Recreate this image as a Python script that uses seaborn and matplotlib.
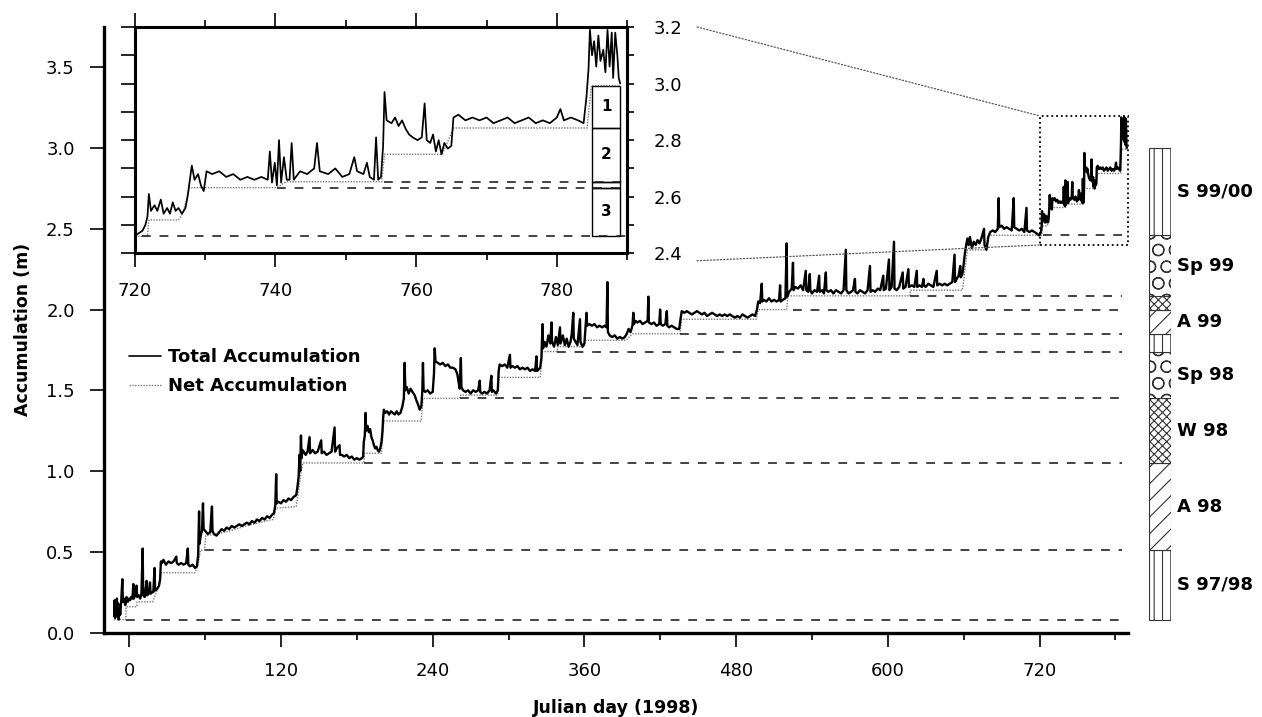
import matplotlib
matplotlib.use('Agg')
import matplotlib.pyplot as plt
import seaborn as sns
import pandas as pd
from matplotlib.patches import Rectangle, ConnectionPatch
from matplotlib.ticker import MultipleLocator, FormatStrFormatter, FixedLocator

sns.set_style('ticks')
plt.rcParams['font.family'] = ['DejaVu Sans']
plt.rcParams['hatch.linewidth'] = 0.8
plt.rcParams['hatch.color'] = 'black'
for k in ['text.color', 'axes.labelcolor', 'xtick.color', 'ytick.color', 'axes.edgecolor']:
    plt.rcParams[k] = 'black'

# ---------------- data ----------------
total_accumulation = [
    (-12, 0.10), (-11.6, 0.20), (-11.2, 0.09), (-10.8, 0.19), (-10.3, 0.12), (-9.8, 0.21), (-9.3, 0.10),
    (-8.8, 0.18), (-8.3, 0.08), (-7.8, 0.17), (-7.2, 0.11), (-6.4, 0.19), (-5.5, 0.33), (-5.1, 0.19),
    (-4.2, 0.21), (-3.2, 0.17), (-2.2, 0.22), (-1.2, 0.19), (-0.2, 0.21),
    (0.6, 0.20), (1.5, 0.22), (2.5, 0.21), (3.2, 0.30), (3.6, 0.21), (4.6, 0.23), (5.8, 0.29), (6.2, 0.22),
    (7.5, 0.23), (8.6, 0.21), (9.6, 0.24), (10.6, 0.52), (11.0, 0.23), (12.2, 0.22), (13.7, 0.32),
    (14.1, 0.23), (15.2, 0.24), (16.4, 0.31), (16.8, 0.24), (18.0, 0.25), (19.0, 0.25), (20.0, 0.40),
    (20.4, 0.26), (22.0, 0.27), (23.5, 0.29), (24.4, 0.33), (25.0, 0.44),
    (25.8, 0.43), (27.0, 0.45), (29.0, 0.42), (31.0, 0.44), (33.0, 0.43), (35.0, 0.44), (37.2, 0.47),
    (37.6, 0.43), (39.0, 0.42), (41.0, 0.43), (43.0, 0.42), (45.0, 0.43), (46.3, 0.52), (46.7, 0.42),
    (48.0, 0.41), (50.0, 0.42), (52.0, 0.40), (53.5, 0.41),
    (54.5, 0.48), (55.2, 0.75), (55.6, 0.55), (56.5, 0.60), (57.5, 0.63), (58.3, 0.80), (58.8, 0.64),
    (60, 0.63), (62, 0.61), (64, 0.62), (65.4, 0.78), (65.8, 0.63), (67, 0.61), (69, 0.60), (71, 0.62),
    (73, 0.64), (75, 0.63), (77, 0.65), (79, 0.64), (81, 0.66), (83, 0.65), (85, 0.66), (87, 0.67),
    (89, 0.66), (91, 0.67), (93, 0.68), (95, 0.67), (97, 0.69), (99, 0.68), (101, 0.70), (103, 0.69),
    (105, 0.71), (107, 0.70), (109, 0.72), (111, 0.71), (113, 0.73),
    (114.5, 0.74), (115.5, 0.79), (116.2, 0.98), (116.6, 0.80), (118, 0.81), (120, 0.80), (122, 0.82),
    (124, 0.81), (126, 0.83), (128, 0.82), (130, 0.84), (132, 0.85), (133, 0.90), (134, 0.97),
    (134.6, 1.10), (135.2, 1.00), (135.8, 1.22), (136.3, 1.08), (137, 1.13),
    (138, 1.12), (139.5, 1.10), (141, 1.12), (142.6, 1.21), (143, 1.11), (145, 1.13), (147, 1.11),
    (149, 1.12), (151.8, 1.19), (152.2, 1.11), (154, 1.12), (156, 1.10), (158, 1.11), (160, 1.12),
    (162.4, 1.27), (162.8, 1.12), (164, 1.14), (166.3, 1.16), (166.7, 1.10), (168, 1.10), (170, 1.09),
    (172, 1.10), (174, 1.08), (176, 1.09), (178, 1.07), (180, 1.08), (182, 1.07), (184, 1.08),
    (185, 1.09), (185.5, 1.18), (186.3, 1.22), (186.9, 1.36), (187.3, 1.25), (188.5, 1.28), (189.5, 1.24),
    (190.5, 1.26), (191.5, 1.21), (192.5, 1.19), (193.5, 1.16), (194.5, 1.14), (195.5, 1.15),
    (196.5, 1.13), (197.5, 1.12), (198.5, 1.14), (199.5, 1.18), (200.3, 1.25), (200.8, 1.33), (201.4, 1.38),
    (202.5, 1.36), (204, 1.37), (205.5, 1.35), (207, 1.37), (208.5, 1.36), (210, 1.35), (211.5, 1.37),
    (213, 1.35), (214.5, 1.36), (216, 1.40), (217.2, 1.45), (217.8, 1.67), (218.4, 1.50), (219.5, 1.52),
    (221, 1.48), (222.5, 1.51), (224, 1.49), (225.7, 1.47), (227, 1.44), (228.5, 1.41), (229.7, 1.38),
    (231, 1.40), (231.8, 1.50), (232.3, 1.67), (232.8, 1.50), (234, 1.49), (236, 1.50), (238, 1.48),
    (240, 1.49), (241, 1.60), (241.6, 1.76), (242.2, 1.68), (244, 1.67), (246, 1.66), (248, 1.67),
    (250, 1.65), (252, 1.66), (254, 1.64), (256, 1.64), (258, 1.63), (259.5, 1.60), (260.5, 1.55),
    (261.4, 1.51), (262.3, 1.70), (262.7, 1.52),
    (264, 1.50), (266, 1.49), (268, 1.50), (270, 1.48), (272, 1.50), (274, 1.49), (276, 1.50),
    (277.2, 1.56), (277.6, 1.49), (279, 1.48), (281, 1.49), (283, 1.48), (285, 1.50), (286.4, 1.59),
    (286.8, 1.49), (288, 1.50), (290, 1.48), (291.5, 1.50),
    (292.2, 1.62), (293, 1.66), (295, 1.65), (297, 1.66), (299, 1.64), (301.1, 1.72), (301.5, 1.64),
    (303, 1.65), (305, 1.64), (307, 1.65), (309, 1.63), (311, 1.64), (313, 1.63), (315, 1.64),
    (317, 1.62), (319, 1.63), (321, 1.62), (322.1, 1.71), (322.5, 1.62), (324, 1.63),
    (325, 1.64), (326, 1.70), (326.9, 1.91), (327.3, 1.76), (328.5, 1.80), (330, 1.77), (331.5, 1.84),
    (333, 1.79), (334, 1.92), (334.4, 1.80), (336, 1.77), (337.5, 1.83), (339, 1.78), (340.7, 1.89),
    (341.1, 1.79), (343, 1.84), (344.5, 1.78), (346, 1.82), (347.5, 1.77), (349, 1.80), (350, 1.85),
    (351.2, 1.98), (351.6, 1.82), (353, 1.80), (354.5, 1.78), (356.5, 1.94), (356.9, 1.80),
    (358.5, 1.77), (360, 1.79), (361.7, 1.98), (362.1, 1.90),
    (364, 1.91), (366, 1.90), (368, 1.91), (370, 1.89), (372, 1.90), (374, 1.89), (376, 1.90),
    (377.5, 1.89), (378.2, 2.17), (378.6, 1.86),
    (380, 1.84), (382, 1.83), (384, 1.84), (386, 1.82), (388, 1.83), (390, 1.82), (392, 1.83),
    (393.5, 1.85), (395, 1.88), (396.5, 1.86), (398, 1.90), (398.7, 1.98), (399.2, 1.91), (400.5, 1.93),
    (402, 1.92), (404, 1.93), (406, 1.91), (408, 1.92), (410, 1.93), (410.6, 2.08), (411, 1.92),
    (413, 1.91), (415, 1.92), (417, 1.90), (419.2, 1.91), (419.9, 2.00), (420.4, 1.91), (422, 1.90),
    (424, 1.91), (425.2, 1.99), (425.6, 1.90), (427, 1.89), (429, 1.90), (431, 1.89), (433, 1.88),
    (435, 1.88),
    (436, 1.94), (437, 1.99), (439, 1.98), (441, 1.99), (443, 1.98), (445, 1.97), (447, 1.98),
    (449, 1.99), (451, 1.98), (453, 1.97), (455, 1.98), (457, 1.96), (459, 1.97), (461, 1.98),
    (463, 1.97), (465, 1.96), (467, 1.97), (469, 1.96), (471, 1.97), (473, 1.96), (475, 1.97),
    (477, 1.96), (479, 1.95), (481, 1.96), (483, 1.95), (485, 1.97), (487, 1.96), (489, 1.95),
    (491, 1.96), (493, 1.97), (495, 1.96),
    (496.5, 2.00), (497.5, 2.05), (499, 2.04), (500.3, 2.16), (500.7, 2.05), (502, 2.06), (504, 2.05),
    (506, 2.07), (508, 2.05), (510, 2.06), (512, 2.05), (514, 2.06), (514.8, 2.15), (515.2, 2.05),
    (517, 2.06), (519, 2.07), (520, 2.41), (520.4, 2.08),
    (522, 2.11), (524, 2.13), (525, 2.29), (525.4, 2.12), (527, 2.14), (529, 2.13), (531, 2.15),
    (533, 2.12), (535.1, 2.24), (535.5, 2.12), (537, 2.11), (538.3, 2.22), (538.7, 2.12), (540, 2.10),
    (542, 2.12), (544, 2.11), (545.7, 2.21), (546.1, 2.11), (548, 2.12), (549.5, 2.10), (551, 2.23),
    (551.4, 2.12), (553, 2.11), (555, 2.12), (557, 2.10), (559, 2.12), (561, 2.11), (563, 2.10),
    (565, 2.12), (566.8, 2.37), (567.2, 2.12), (569, 2.10), (571, 2.11), (572.5, 2.12), (574, 2.19),
    (574.4, 2.11), (576, 2.10), (578, 2.12), (580, 2.11), (582, 2.10), (584, 2.12), (585.9, 2.27),
    (586.3, 2.11), (588, 2.12), (590, 2.11), (592, 2.13), (594, 2.12), (596.4, 2.21), (596.8, 2.12),
    (598.5, 2.13), (600.9, 2.31), (601.3, 2.12), (603, 2.14), (604.9, 2.42), (605.3, 2.13), (607, 2.12),
    (609, 2.14), (611.8, 2.23), (612.2, 2.13), (614, 2.14), (616.3, 2.25), (616.7, 2.14), (619, 2.15),
    (621, 2.14), (622.9, 2.24), (623.3, 2.14), (625, 2.15), (627, 2.14), (628.2, 2.19), (628.6, 2.15),
    (630, 2.14), (632, 2.16), (634, 2.15), (636, 2.14), (638.7, 2.24), (639.1, 2.15), (641, 2.16),
    (643, 2.15), (645, 2.16), (647, 2.15), (649, 2.16), (651, 2.17),
    (652.8, 2.34), (653.2, 2.17), (654.5, 2.19), (656, 2.21), (657.3, 2.27), (657.7, 2.20), (659, 2.22),
    (660, 2.28), (661, 2.35), (662, 2.40), (663, 2.44),
    (664, 2.40), (665, 2.45), (666.5, 2.38), (668, 2.42), (669.5, 2.40), (671, 2.43), (672.5, 2.41),
    (674, 2.44), (676.1, 2.50), (676.5, 2.40), (678, 2.37), (679.5, 2.45), (681, 2.48), (683, 2.49),
    (685, 2.48), (687, 2.50), (687.7, 2.69), (688.1, 2.51),
    (690, 2.52), (692, 2.50), (694, 2.51), (696, 2.50), (698, 2.49), (699.6, 2.69), (700, 2.51),
    (702, 2.50), (704, 2.49), (706, 2.50), (708, 2.48), (709.7, 2.63), (710.1, 2.49), (712, 2.48),
    (714, 2.49), (716, 2.48), (718, 2.47), (719.5, 2.46),
    (720, 2.46), (720.5, 2.47), (721.1, 2.48), (721.5, 2.50), (721.8, 2.53), (722, 2.61), (722.3, 2.55),
    (722.8, 2.57), (723.2, 2.55), (723.7, 2.59), (724.1, 2.54), (724.6, 2.56), (725, 2.54), (725.4, 2.58),
    (725.8, 2.55), (726.2, 2.56), (726.7, 2.54), (727.2, 2.56), (727.5, 2.60), (728.1, 2.71),
    (728.5, 2.66), (729, 2.68), (729.4, 2.64), (729.8, 2.62), (730.2, 2.69), (731, 2.68), (732, 2.69),
    (733, 2.67), (734, 2.68), (735, 2.66), (736, 2.67), (737, 2.66), (738, 2.67), (738.9, 2.66),
    (739.2, 2.76), (739.5, 2.65), (739.9, 2.72), (740.2, 2.64), (740.5, 2.80), (740.8, 2.65),
    (741.2, 2.74), (741.6, 2.66), (742, 2.66), (742.3, 2.79), (742.6, 2.66), (743.5, 2.69),
    (744.5, 2.68), (745.5, 2.70), (745.9, 2.79), (746.3, 2.69), (747.5, 2.68), (748.5, 2.70),
    (749.5, 2.67), (750.5, 2.68), (751.2, 2.74), (751.6, 2.69), (752.5, 2.68), (753, 2.72),
    (753.4, 2.67), (754, 2.66), (754.3, 2.81), (754.6, 2.66), (755, 2.67), (755.3, 2.78), (755.5, 2.97),
    (755.8, 2.87), (756.5, 2.86), (757, 2.88), (757.5, 2.85), (758, 2.87), (758.5, 2.84), (759, 2.82),
    (759.5, 2.81), (760.2, 2.80), (760.8, 2.81), (761.2, 2.93), (761.5, 2.80), (762, 2.79),
    (762.4, 2.82), (762.8, 2.76), (763.2, 2.80), (763.6, 2.75), (764, 2.79), (764.5, 2.77), (765, 2.78),
    (765.3, 2.88), (766, 2.89), (767, 2.87), (768, 2.88), (769, 2.87), (770, 2.88), (771, 2.86),
    (772, 2.87), (773, 2.88), (774, 2.86), (775, 2.87), (776, 2.88), (777, 2.86), (778, 2.87),
    (779, 2.86), (780, 2.88), (780.5, 2.91), (781, 2.87), (782, 2.88), (783, 2.87), (783.8, 2.86),
    (784.2, 2.95), (784.5, 3.05), (784.7, 3.19), (785, 3.10), (785.3, 3.15), (785.6, 3.06), (785.9, 3.17),
    (786.2, 3.08), (786.6, 3.12), (786.9, 3.04), (787.2, 3.19), (787.5, 3.06), (787.8, 3.18), (788, 3.02),
    (788.3, 3.18), (788.6, 3.10), (788.8, 3.02), (789, 3.00),
]

net_accumulation = [
    (-12, 0.08), (-2.8, 0.08), (-2.6, 0.16), (6.0, 0.16), (6.2, 0.19), (18.5, 0.19), (21, 0.24),
    (23.5, 0.29), (25, 0.37), (52, 0.37), (54.5, 0.42), (56.3, 0.51), (59.5, 0.51), (60.5, 0.60),
    (70, 0.61), (80, 0.63), (90, 0.655), (100, 0.675), (110, 0.695), (114, 0.70), (116, 0.77),
    (132, 0.78), (134, 0.88), (136, 1.00), (137.3, 1.05), (185.5, 1.05), (186, 1.11), (199.5, 1.11),
    (201.4, 1.31), (231, 1.31), (232.3, 1.45), (261.5, 1.45), (262, 1.47), (291.5, 1.47), (292.2, 1.58),
    (325, 1.58), (327, 1.74), (338.5, 1.74), (339, 1.77), (360, 1.77), (361, 1.81), (393, 1.81),
    (398, 1.85), (435.6, 1.85), (437, 1.94), (496, 1.94), (497.5, 2.00), (520, 2.00), (521, 2.085),
    (617.5, 2.085), (618, 2.12), (659, 2.12), (663, 2.37), (678, 2.37), (680, 2.46), (721.8, 2.46),
    (722, 2.518), (726.2, 2.518), (726.8, 2.54), (727.8, 2.632), (740.2, 2.632), (741.5, 2.653),
    (755.1, 2.653), (755.5, 2.75), (763.7, 2.75), (765.3, 2.843), (784.3, 2.843), (784.9, 2.993),
    (789, 2.993),
]

season_edges = [0.08, 0.51, 1.05, 1.45, 1.74, 1.85, 2.00, 2.085, 2.46, 3.00]
season_line_start = [-2.5, 59.5, 185.5, 261.5, 338.5, 435.6, 525, 617.5, 722.5]
season_line_end = 785
season_labels = ['S 97/98', 'A 98', 'W 98', 'Sp 98', '', 'A 99', '', 'Sp 99', 'S 99/00']
season_hatches = ['||', '//', 'xxxx', 'O', '||', '//', 'xxxx', 'O', '||']

inset_levels = [2.461, 2.632, 2.653]
inset_level_start = [721.0, 740.2, 755.4]
layer_edges = [2.461, 2.632, 2.653, 2.843, 2.993]
layer_labels = ['3', '', '2', '1']
layer_day = 787

main_xlim = (-20, 790)
main_ylim = (0, 3.75)
inset_xlim = (720, 790)
inset_ylim = (2.4, 3.2)
inset_right_ticks = [2.4, 2.6, 2.8, 3.0, 3.2]
inset_right_minor = [2.5, 2.7, 2.9, 3.1]

tot = pd.DataFrame(total_accumulation, columns=['day', 'acc'])
net = pd.DataFrame(net_accumulation, columns=['day', 'acc'])

# ---------------- figure ----------------
W, H = 1262, 717
fig = plt.figure(figsize=(W / 100, H / 100), dpi=100)


def rect(l, t, r, b):
    return [l / W, 1 - b / H, (r - l) / W, (b - t) / H]


ax = fig.add_axes(rect(104, 27, 1128, 632.5))
sns.lineplot(data=net, x='day', y='acc', ax=ax, color='#7a7a7a', lw=1.0,
             linestyle=(0, (1, 1)), estimator=None, sort=False)
sns.lineplot(data=tot, x='day', y='acc', ax=ax, color='black', lw=1.7,
             estimator=None, sort=False)
ax.hlines(season_edges[:-1], season_line_start, season_line_end, colors='#1a1a1a',
          linestyles=(0, (5.5, 5.5)), lw=1.15)
ax.add_patch(Rectangle((inset_xlim[0], inset_ylim[0]), inset_xlim[1] - inset_xlim[0],
                       inset_ylim[1] - inset_ylim[0], fill=False, ls=':', lw=1.3,
                       ec='black', clip_on=False))
ax.set_xlim(*main_xlim)
ax.set_ylim(*main_ylim)
ax.xaxis.set_major_locator(MultipleLocator(120))
ax.xaxis.set_minor_locator(MultipleLocator(60))
ax.yaxis.set_major_locator(MultipleLocator(0.5))
ax.yaxis.set_major_formatter(FormatStrFormatter('%.1f'))
ax.tick_params(which='major', length=10, width=1.2, labelsize=13, pad=11, direction='out')
ax.tick_params(axis='x', which='minor', length=5, width=1.2, direction='out')
ax.tick_params(axis='y', which='minor', left=False)
for s in ['top', 'right']:
    ax.spines[s].set_visible(False)
for s in ['left', 'bottom']:
    ax.spines[s].set_linewidth(2.4)
ax.set_xlabel('Julian day (1998)', fontsize=12.5, fontweight='bold', labelpad=14)
ax.set_ylabel('Accumulation (m)', fontsize=12.5, fontweight='bold', labelpad=10)
h_net, h_tot = ax.get_lines()[0], ax.get_lines()[1]
ax.legend([h_tot, h_net], ['Total Accumulation', 'Net Accumulation'],
          loc='upper left', bbox_to_anchor=(0.0244, 0.47), frameon=False,
          prop={'weight': 'bold', 'size': 13}, handlelength=1.8, handletextpad=0.35,
          labelspacing=0.62, borderpad=0, borderaxespad=0)
leg = ax.get_legend()
leg.get_lines()[0].set_linewidth(1.2)

# ---------------- inset ----------------
axi = fig.add_axes(rect(134.8, 27, 627.2, 253.3))
axi.set_facecolor('white')
sns.lineplot(data=net, x='day', y='acc', ax=axi, color='#7a7a7a', lw=1.0,
             linestyle=(0, (1, 1)), estimator=None, sort=False, legend=False)
sns.lineplot(data=tot, x='day', y='acc', ax=axi, color='black', lw=1.25,
             estimator=None, sort=False, legend=False)
axi.hlines(inset_levels, inset_level_start, inset_xlim[1], colors='#1a1a1a',
           linestyles=(0, (5.5, 5.5)), lw=1.15)
bottoms = layer_edges[:-1]
heights = [t - b for b, t in zip(layer_edges[:-1], layer_edges[1:])]
axi.bar(layer_day, heights, bottom=bottoms, width=4, fill=False, edgecolor='black', lw=1.0)
for b, h, lab in zip(bottoms, heights, layer_labels):
    if lab:
        axi.text(layer_day, b + h / 2, lab, ha='center', va='center', fontsize=11, fontweight='bold')
axi.set_xlim(*inset_xlim)
axi.set_ylim(*inset_ylim)
axi.set_xlabel('')
axi.set_ylabel('')
axi.xaxis.set_major_locator(MultipleLocator(20))
axi.xaxis.set_minor_locator(MultipleLocator(10))
axi.yaxis.set_major_locator(FixedLocator(inset_right_ticks))
axi.yaxis.set_minor_locator(FixedLocator(inset_right_minor))
axi.tick_params(axis='x', which='major', top=True, bottom=True, length=10, width=1.2,
                labelsize=13, pad=11, direction='out')
axi.tick_params(axis='x', which='minor', top=True, bottom=True, length=5, width=1.2, direction='out')
axi.tick_params(axis='y', which='both', left=True, right=False, labelleft=False,
                length=10, width=1.2, direction='out')
for s in axi.spines.values():
    s.set_linewidth(2.2)
sec = axi.secondary_yaxis('right')
sec.yaxis.set_major_locator(FixedLocator(inset_right_ticks))
sec.yaxis.set_minor_locator(FixedLocator(inset_right_minor))
sec.yaxis.set_major_formatter(FormatStrFormatter('%.1f'))
sec.tick_params(which='both', length=5, width=1.2, labelsize=13, pad=14, direction='out')
sec.spines['right'].set_linewidth(2.2)

# connector lines from inset to the zoom box
for ya, yb in [(1.0, inset_ylim[1]), (-0.033, inset_ylim[0])]:
    con = ConnectionPatch(xyA=(1.142, ya), coordsA=axi.transAxes,
                          xyB=(inset_xlim[0], yb), coordsB=ax.transData,
                          ls=':', color='#555555', lw=0.9)
    fig.add_artist(con)

# ---------------- season column ----------------
axb = fig.add_axes(rect(1149.3, 27, 1171.3, 632.5))
axb.set_ylim(*main_ylim)
axb.set_xlim(0, 1)
axb.axis('off')
sb = season_edges[:-1]
sh = [t - b for b, t in zip(season_edges[:-1], season_edges[1:])]
bars = axb.bar(0.5, sh, bottom=sb, width=1, color='white', edgecolor='#333333', lw=0.8)
for bar, hatch in zip(bars, season_hatches):
    bar.set_hatch(hatch)
for b, h, lab in zip(sb, sh, season_labels):
    if lab:
        axb.text(1.27, b + h / 2, lab, ha='left', va='center', fontsize=13,
                 fontweight='bold', clip_on=False)

fig.savefig('out.png', dpi=100)
